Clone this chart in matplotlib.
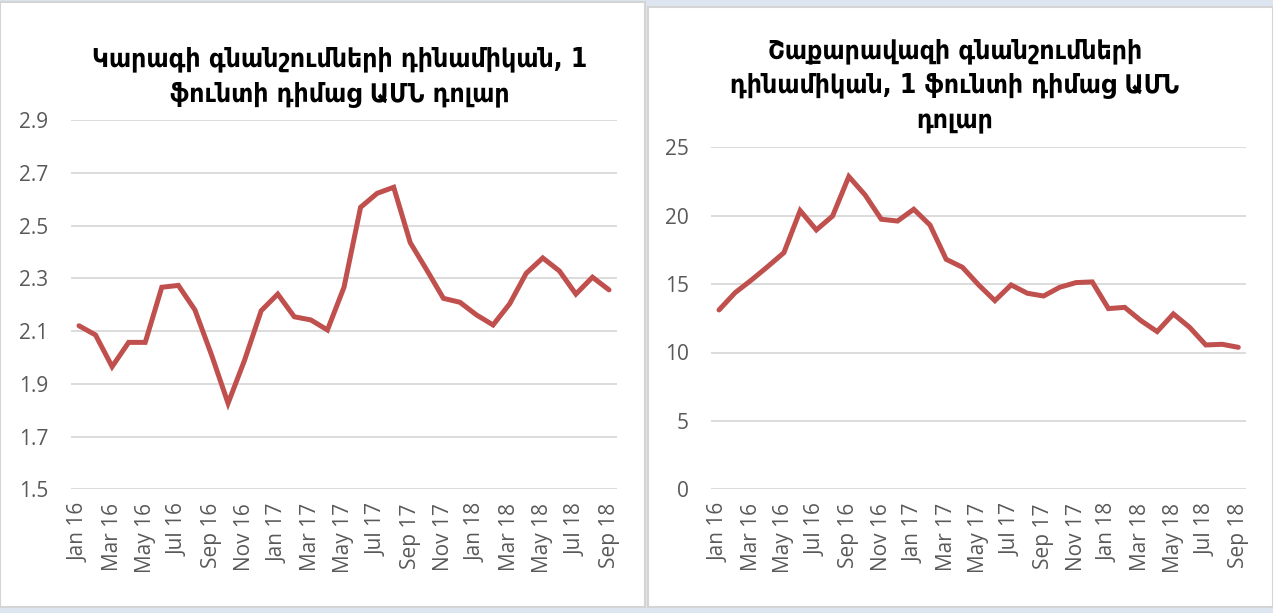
import matplotlib
matplotlib.use("Agg")
import matplotlib.pyplot as plt
from matplotlib.patches import Rectangle

# Monthly series Jan 2016 .. Sep 2018 (33 points)
months = ["Jan 16", "Feb 16", "Mar 16", "Apr 16", "May 16", "Jun 16", "Jul 16", "Aug 16",
          "Sep 16", "Oct 16", "Nov 16", "Dec 16", "Jan 17", "Feb 17", "Mar 17", "Apr 17",
          "May 17", "Jun 17", "Jul 17", "Aug 17", "Sep 17", "Oct 17", "Nov 17", "Dec 17",
          "Jan 18", "Feb 18", "Mar 18", "Apr 18", "May 18", "Jun 18", "Jul 18", "Aug 18",
          "Sep 18"]

butter = [2.12, 2.085, 1.965, 2.057, 2.057, 2.266, 2.273, 2.18, 2.01, 1.826, 1.99, 2.177,
          2.24, 2.154, 2.142, 2.104, 2.266, 2.569, 2.622, 2.645, 2.435, 2.331, 2.224, 2.209,
          2.161, 2.123, 2.203, 2.319, 2.377, 2.328, 2.24, 2.304, 2.256]

sugar = [13.11, 14.38, 15.30, 16.28, 17.30, 20.37, 18.96, 19.98, 22.86, 21.52, 19.74, 19.61,
         20.47, 19.32, 16.81, 16.23, 14.94, 13.79, 14.94, 14.33, 14.13, 14.77, 15.11, 15.16,
         13.21, 13.30, 12.33, 11.53, 12.82, 11.84, 10.55, 10.60, 10.38]

title_butter = "Կարագի գնանշումների դինամիկան, 1\nֆունտի դիմաց ԱՄՆ դոլար"
title_sugar = "Շաքարավազի գնանշումների\nդինամիկան, 1 ֆունտի դիմաց ԱՄՆ\nդոլար"

butter_ticks = [1.5, 1.7, 1.9, 2.1, 2.3, 2.5, 2.7, 2.9]
sugar_ticks = [0, 5, 10, 15, 20, 25]

LINE_COLOR = "#c0504d"
GRID_COLOR = "#d9d9d9"
TICK_COLOR = "#595959"

W, H = 1273, 613
fig = plt.figure(figsize=(W / 100, H / 100), dpi=100)
fig.patch.set_facecolor("#dde6f0")

# white chart panels
def panel(x0, y0, x1, y1):
    fig.patches.append(Rectangle((x0 / W, 1 - y1 / H), (x1 - x0) / W, (y1 - y0) / H,
                                 transform=fig.transFigure, facecolor="white",
                                 edgecolor="#d4d4d4", linewidth=1.5, zorder=-5))

panel(0, 2, 645, 607)
panel(648, 7, 1273, 607)


def ax_at(x0, y0, x1, y1):
    return fig.add_axes([x0 / W, 1 - y1 / H, (x1 - x0) / W, (y1 - y0) / H])


def style(ax, values, ticks, fmt):
    x = list(range(len(values)))
    ax.plot(x, values, color=LINE_COLOR, linewidth=3.6, solid_capstyle="round",
            solid_joinstyle="miter", zorder=3)
    ax.set_facecolor("none")
    ax.set_xlim(-0.5, len(values) - 0.5)
    ax.set_ylim(ticks[0], ticks[-1])
    ax.set_yticks(ticks)
    ax.set_yticklabels([fmt(t) for t in ticks])
    ax.set_xticks(x[::2])
    ax.set_xticklabels(months[::2], rotation=90)
    ax.grid(axis="y", color=GRID_COLOR, linewidth=1.3)
    ax.set_axisbelow(True)
    for s in ax.spines.values():
        s.set_visible(False)
    ax.tick_params(length=0, colors=TICK_COLOR, labelsize=15)
    ax.tick_params(axis="y", pad=16)
    ax.tick_params(axis="x", pad=10)
    for lab in ax.get_xticklabels() + ax.get_yticklabels():
        lab.set_fontfamily("Open Sans")


ax1 = ax_at(70.7, 120, 617.3, 489.3)
style(ax1, butter, butter_ticks, lambda t: f"{t:.1f}")

ax2 = ax_at(710.9, 147.3, 1246.4, 489.3)
style(ax2, sugar, sugar_ticks, lambda t: f"{t:d}")

fig.text(340 / W, 1 - 77 / H, title_butter, ha="center", va="center",
         fontsize=19, fontweight="bold", fontstretch="condensed",
         family="DejaVu Sans", linespacing=1.45)
fig.text(955 / W, 1 - 86 / H, title_sugar, ha="center", va="center",
         fontsize=19, fontweight="bold", fontstretch="condensed",
         family="DejaVu Sans", linespacing=1.45)

fig.savefig("out.png", dpi=100, facecolor=fig.get_facecolor())
